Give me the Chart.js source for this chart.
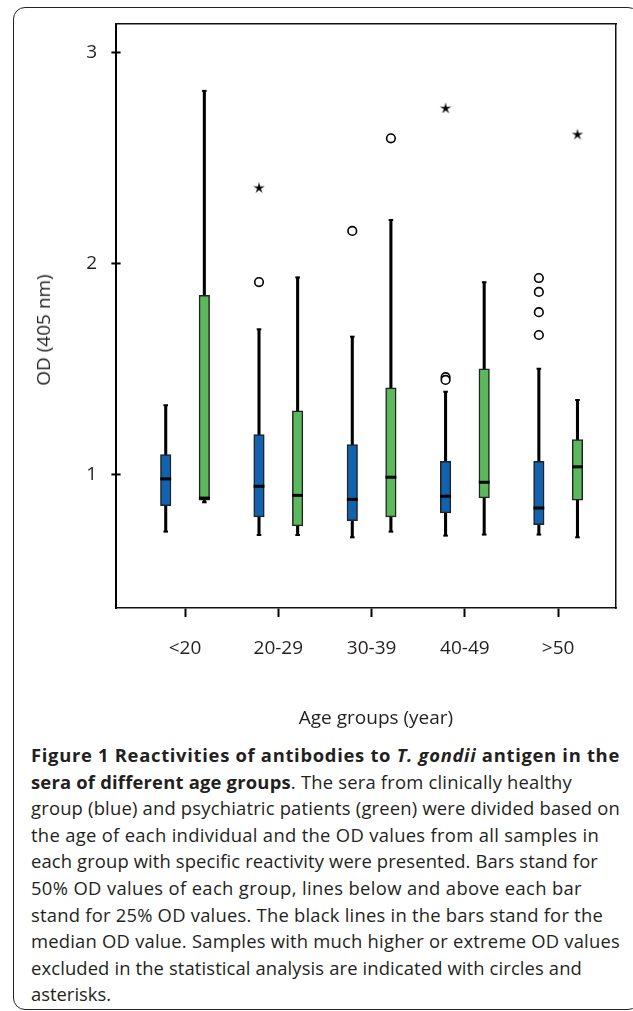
<!DOCTYPE html>
<html><head><meta charset="utf-8">
<script src="https://cdn.jsdelivr.net/npm/chart.js@4.4.1/dist/chart.umd.min.js"></script>
<style>
html,body{margin:0;padding:0;background:#fff;}
body{width:633px;height:1011px;position:relative;overflow:hidden;font-family:"Open Sans",sans-serif;color:#231f20;}
#frame{position:absolute;left:13px;top:7px;width:627px;height:1003px;border:1.5px solid #222;border-radius:12px;box-sizing:border-box;}
#wrap{position:absolute;left:0;top:0;width:633px;height:720px;}
#ytitle{position:absolute;left:43px;top:330px;transform:translate(-50%,-50%) rotate(-90deg);font-size:19px;white-space:nowrap;}
#xtitle{position:absolute;left:376px;top:717px;transform:translate(-50%,-50%);font-size:19px;white-space:nowrap;}
#caption{position:absolute;left:31px;top:742px;font-size:18.4px;line-height:26.6px;white-space:nowrap;}
#caption span.l{display:inline-block;}
</style></head><body>
<div id="frame"></div>
<div id="wrap"><canvas id="c" width="633" height="720"></canvas></div>
<div id="ytitle">OD (405 nm)</div>
<div id="xtitle">Age groups (year)</div>
<div id="caption">
<div><span class="l" data-w="589"><b>Figure 1 Reactivities of antibodies to <i>T. gondii</i> antigen in the</b></span></div>
<div><span class="l" data-w="541"><b>sera of different age groups</b>. The sera from clinically healthy</span></div>
<div><span class="l" data-w="589">group (blue) and psychiatric patients (green) were divided based on</span></div>
<div><span class="l" data-w="568">the age of each individual and the OD values from all samples in</span></div>
<div><span class="l" data-w="567">each group with specific reactivity were presented. Bars stand for</span></div>
<div><span class="l" data-w="551">50% OD values of each group, lines below and above each bar</span></div>
<div><span class="l" data-w="572">stand for 25% OD values. The black lines in the bars stand for the</span></div>
<div><span class="l" data-w="589">median OD value. Samples with much higher or extreme OD values</span></div>
<div><span class="l" data-w="551">excluded in the statistical analysis are indicated with circles and</span></div>
<div><span class="l">asterisks.</span></div>
</div>
<script>
// ---- data ----
const categories = ['<20', '20-29', '30-39', '40-49', '>50'];
const yTickValues = [1, 2, 3];

// Healthy group (blue)
const healthyLow    = [0.729, 0.713, 0.702, 0.710, 0.715];
const healthyQ1     = [0.852, 0.799, 0.781, 0.818, 0.762];
const healthyMedian = [0.979, 0.944, 0.882, 0.897, 0.841];
const healthyQ3     = [1.094, 1.189, 1.141, 1.062, 1.062];
const healthyHigh   = [1.328, 1.688, 1.653, 1.392, 1.501];
const healthyOutliers = [[], [1.912], [2.154], [1.461, 1.448], [1.931, 1.865, 1.769, 1.661]];
const healthyExtremes = [[], [2.359], [], [2.736], []];

// Psychiatric patients (green)
const patientLow    = [0.868, 0.713, 0.729, 0.715, 0.702];
const patientQ1     = [0.878, 0.756, 0.799, 0.889, 0.878];
const patientMedian = [0.888, 0.901, 0.987, 0.963, 1.036];
const patientQ3     = [1.849, 1.302, 1.411, 1.501, 1.165];
const patientHigh   = [2.818, 1.934, 2.206, 1.911, 1.353];
const patientOutliers = [[], [], [2.593], [], []];
const patientExtremes = [[], [], [], [], [2.612]];

// ---- caption line fitting (letter-spacing only) ----
document.querySelectorAll('#caption span.l[data-w]').forEach(el => {
  const target = parseFloat(el.dataset.w);
  const natural = el.getBoundingClientRect().width;
  const n = el.textContent.length;
  if (n > 1) el.style.letterSpacing = ((target - natural) / n).toFixed(3) + 'px';
});

// ---- styling / layout ----
const GROUP_OFFSET = 0.207;
const X_MIN = 0.26, X_MAX = 5.62, Y_MIN = 0.367, Y_MAX = 3.135;

function starIcon() {
  const c = document.createElement('canvas');
  c.width = 14; c.height = 14;
  const g = c.getContext('2d');
  g.fillStyle = '#000';
  g.beginPath();
  const R = 6.0, r = 1.9, cx = 7, cy = 7.3;
  for (let k = 0; k < 10; k++) {
    const a = -Math.PI / 2 + k * Math.PI / 5;
    const rr = k % 2 === 0 ? R : r;
    const px = cx + rr * Math.cos(a), py = cy + rr * Math.sin(a);
    k === 0 ? g.moveTo(px, py) : g.lineTo(px, py);
  }
  g.closePath(); g.fill();
  return c;
}
const STAR = starIcon();

function boxDatasets(lo, q1, med, q3, hi, outl, extr, off, color) {
  const xs = categories.map((_, i) => i + 1 + off);
  const outPts = [], extPts = [];
  xs.forEach((x, i) => {
    outl[i].forEach(v => outPts.push({x, y: v}));
    extr[i].forEach(v => extPts.push({x, y: v}));
  });
  return [
    {type: 'bar', data: xs.map((x, i) => ({x, y: [lo[i], hi[i]]})),
     backgroundColor: '#000', borderWidth: 0, barThickness: 2.4, grouped: false, order: 6},
    {type: 'bar', data: xs.map((x, i) => ({x, y: [q1[i], q3[i]]})),
     backgroundColor: color, borderColor: '#222', borderWidth: 1.5, borderSkipped: false,
     barThickness: 10.5, grouped: false, order: 4},
    {type: 'scatter', data: xs.map((x, i) => ({x, y: lo[i]})).concat(xs.map((x, i) => ({x, y: hi[i]}))),
     pointStyle: 'line', radius: 2.3, borderWidth: 2, borderColor: '#000', order: 3},
    {type: 'scatter', data: xs.map((x, i) => ({x, y: med[i]})),
     pointStyle: 'line', radius: 5.4, borderWidth: 3, borderColor: '#000', order: 2},
    {type: 'scatter', data: outPts, pointStyle: 'circle', radius: 4.3, borderWidth: 1.6,
     borderColor: '#000', backgroundColor: '#fff', order: 1},
    {type: 'scatter', data: extPts, pointStyle: STAR, order: 1}
  ];
}

const datasets = [
  ...boxDatasets(healthyLow, healthyQ1, healthyMedian, healthyQ3, healthyHigh,
                 healthyOutliers, healthyExtremes, -GROUP_OFFSET, '#1163b0'),
  ...boxDatasets(patientLow, patientQ1, patientMedian, patientQ3, patientHigh,
                 patientOutliers, patientExtremes, GROUP_OFFSET, '#5cb85c'),
  // y-axis tick marks crossing the axis line
  {type: 'scatter', data: yTickValues.map(v => ({x: X_MIN, y: v})), pointStyle: 'line',
   radius: 4.6, borderWidth: 2, borderColor: '#000', clip: false, order: 0}
];

const tickFont = {family: '"Open Sans", sans-serif', size: 19};
const noPad = s => { s.paddingTop = 0; s.paddingBottom = 0; s.paddingLeft = 0; s.paddingRight = 0; };

new Chart(document.getElementById('c'), {
  type: 'bar',
  data: {datasets},
  options: {
    responsive: false,
    animation: false,
    events: [],
    layout: {padding: {left: 0, top: 24, right: 17, bottom: 0}},
    plugins: {legend: {display: false}, tooltip: {enabled: false}},
    scales: {
      x: {
        type: 'linear', position: 'bottom', min: X_MIN, max: X_MAX, offset: false,
        afterBuildTicks: s => { s.ticks = categories.map((c, i) => ({value: i + 1})); },
        afterFit: s => { s.height = 112; noPad(s); },
        ticks: {padding: 20, color: '#231f20', font: tickFont, maxRotation: 0,
                callback: v => categories[Math.round(v) - 1]},
        grid: {display: true, offset: false, drawOnChartArea: false, drawTicks: true,
               tickLength: 9, tickWidth: 2, tickColor: '#000'},
        border: {display: true, color: '#111', width: 1.5}
      },
      y: {
        type: 'linear', position: 'left', min: Y_MIN, max: Y_MAX,
        afterBuildTicks: s => { s.ticks = yTickValues.map(v => ({value: v})); },
        afterFit: s => { s.width = 116; noPad(s); },
        ticks: {padding: 19, color: '#231f20', font: tickFont},
        grid: {display: true, drawOnChartArea: false, drawTicks: false},
        border: {display: true, color: '#000', width: 2}
      },
      xTop: {
        type: 'linear', position: 'top', min: X_MIN, max: X_MAX,
        afterFit: s => { s.height = 0; noPad(s); },
        ticks: {display: false}, grid: {display: false, drawTicks: false},
        border: {display: true, color: '#111', width: 1.5}
      },
      yRight: {
        type: 'linear', position: 'right', min: Y_MIN, max: Y_MAX,
        afterFit: s => { s.width = 0; noPad(s); },
        ticks: {display: false}, grid: {display: false, drawTicks: false},
        border: {display: true, color: '#111', width: 1.5}
      }
    }
  }
});
</script>
</body></html>
